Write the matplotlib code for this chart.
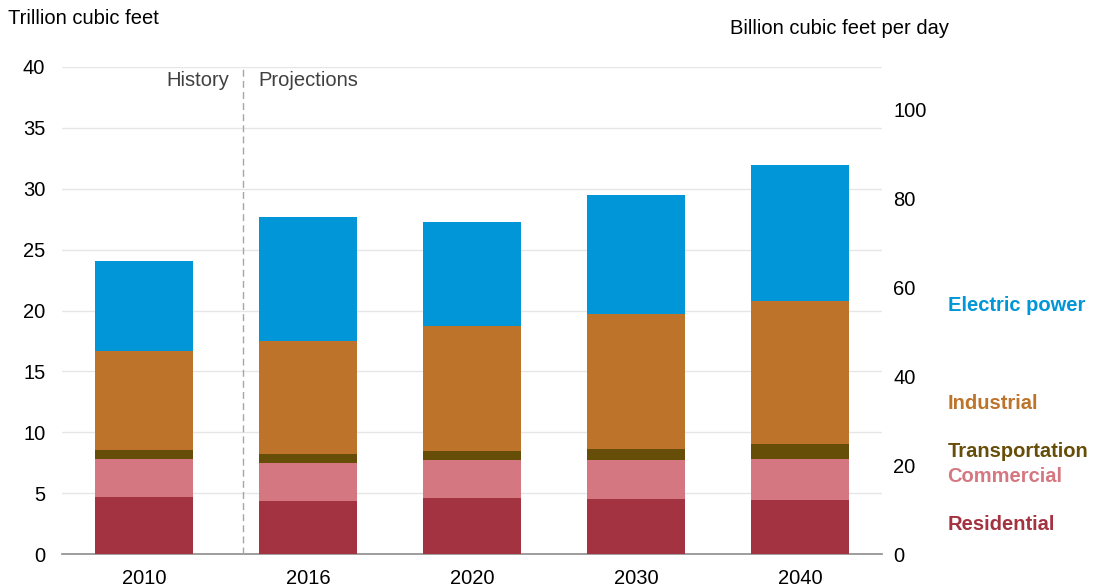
import matplotlib
matplotlib.use("Agg")
import matplotlib.pyplot as plt
import numpy as np

plt.rcParams['font.family'] = ['Liberation Sans', 'DejaVu Sans']

years = ["2010", "2016", "2020", "2030", "2040"]
sectors = ["Residential", "Commercial", "Transportation", "Industrial", "Electric power"]
residential = [4.68, 4.35, 4.60, 4.52, 4.44]
commercial = [3.12, 3.12, 3.12, 3.20, 3.36]
transportation = [0.74, 0.74, 0.74, 0.90, 1.23]
industrial = [8.13, 9.29, 10.27, 11.09, 11.75]
electric_power = [7.40, 10.18, 8.54, 9.78, 11.17]
series = [residential, commercial, transportation, industrial, electric_power]
colors = ["#A33340", "#D57780", "#664E09", "#BD732A", "#0096D7"]
label_y = [2.46, 6.4, 8.38, 12.4, 20.45]

FS = 14.5

fig = plt.figure(figsize=(10.94, 5.88), dpi=100)
ax = fig.add_axes([62 / 1094, 1 - 554 / 588, 820 / 1094, 487 / 588])

x = np.arange(len(years))
bottom = np.zeros(len(years))
for vals, col in zip(series, colors):
    ax.bar(x, vals, width=0.6, bottom=bottom, color=col, zorder=3)
    bottom += np.array(vals)

ax.set_xlim(-0.5, 4.5)
ax.set_ylim(0, 40)
ax.set_yticks(np.arange(0, 41, 5))
ax.set_xticks(x)
ax.set_xticklabels(years)
ax.grid(axis='y', color='#e6e6e6', linewidth=1, zorder=0)
for s in ['top', 'right', 'left']:
    ax.spines[s].set_visible(False)
ax.spines['bottom'].set_color('#8c8c8c')
ax.spines['bottom'].set_linewidth(1.2)
ax.tick_params(axis='both', length=0, labelsize=FS, colors='black')
ax.tick_params(axis='y', pad=12)
ax.tick_params(axis='x', pad=11)

# Right axis in billion cubic feet per day
ax2 = ax.twinx()
ax2.set_ylim(0, 40 * 1000 / 365)
ax2.set_yticks(np.arange(0, 101, 20))
for s in ax2.spines.values():
    s.set_visible(False)
ax2.tick_params(axis='y', length=0, labelsize=FS, pad=8)

# History / projections divider
ax.axvline(0.603, color='#a6a6a6', linestyle=(0, (5, 3)), linewidth=1, zorder=4)
ax.text(0.52, 38.9, "History", ha='right', va='center', fontsize=FS, color='#404040')
ax.text(0.70, 38.9, "Projections", ha='left', va='center', fontsize=FS, color='#404040')

# Sector labels on the right
for name, col, yv in zip(sectors, colors, label_y):
    ax.text(1.080, yv, name, transform=ax.get_yaxis_transform(), ha='left', va='center',
            fontsize=FS, fontweight='bold', color=col)

fig.text(8 / 1094, 1 - 18 / 588, "Trillion cubic feet", ha='left', va='center', fontsize=FS)
fig.text(730 / 1094, 1 - 28 / 588, "Billion cubic feet per day", ha='left', va='center', fontsize=FS)

fig.savefig("out.png", dpi=100)
